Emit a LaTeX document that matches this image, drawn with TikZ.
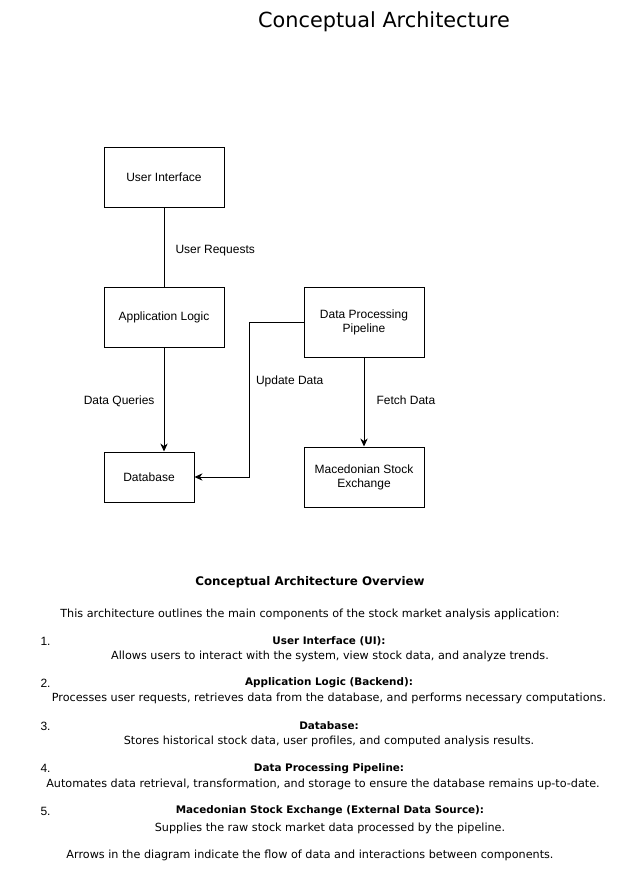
\documentclass[tikz,border=0pt]{standalone}
\usepackage{fontspec}
\setmainfont{Liberation Sans}
\newfontfamily\comic{DejaVu Sans}
\usetikzlibrary{arrows.meta}

\begin{document}
\begin{tikzpicture}[x=0.75pt, y=-0.75pt, line width=0.75pt, >={Stealth[length=6pt,width=5.5pt]},
  box/.style={draw, align=center, inner sep=0pt, minimum width=90pt, minimum height=45pt, font=\fontsize{9}{10.5}\selectfont},
  lbl/.style={inner sep=0pt, font=\fontsize{9}{11}\selectfont},
  txt/.style={inner sep=0pt, font=\comic\fontsize{8.4}{10}\selectfont},
  bold/.style={inner sep=0pt, font=\comic\bfseries\fontsize{7.8}{10}\selectfont},
  num/.style={inner sep=0pt, anchor=west, font=\fontsize{9}{11}\selectfont}]
  \useasboundingbox[fill=white] (0,0) rectangle (620,882);
  \node [inner sep=0pt, font=\comic\fontsize{15.6}{18}\selectfont] (title) at (384,22) {Conceptual Architecture};

  \node [box] (ui) at (164,177) {User Interface};
  \node [box] (app) at (164,317) {Application Logic};
  \node [box, minimum height=52.5pt] (pipe) at (364,322) {Data Processing\\Pipeline};
  \node [box, minimum width=67.5pt, minimum height=37.5pt] (db) at (149,477) {Database};
  \node [box] (mse) at (364,477) {Macedonian Stock\\Exchange};

  \draw (ui) -- node [lbl, anchor=west, xshift=8.25pt, yshift=-3pt] {User Requests} (app);
  \draw [->] (app) -- node [lbl, anchor=east, xshift=-6.75pt, yshift=-1pt] {Data Queries} (app |- db.north);
  \draw [->] (pipe.west) -- ++(-54,0) |- node [lbl, pos=0.19, anchor=west, xshift=4.5pt] {Update Data} (db.east);
  \draw [->] (pipe) -- node [lbl, anchor=west, xshift=9pt, yshift=1pt] {Fetch Data} (mse);

  \node [bold, font=\comic\bfseries\fontsize{8.9}{10}\selectfont] (ovtitle) at (310,582) {Conceptual Architecture Overview};
  \node [txt] (intro) at (310,614) {This architecture outlines the main components of the stock market analysis application:};

  \node [num] (n1) at (40,641) {1.};
  \node [bold] (h1) at (329,641) {User Interface (UI):};
  \node [txt] (d1) at (330,656) {Allows users to interact with the system, view stock data, and analyze trends.};

  \node [num] (n2) at (40,683) {2.};
  \node [bold] (h2) at (329,683) {Application Logic (Backend):};
  \node [txt] (d2) at (329,698) {Processes user requests, retrieves data from the database, and performs necessary computations.};

  \node [num] (n3) at (40,726) {3.};
  \node [bold] (h3) at (329,726) {Database:};
  \node [txt] (d3) at (329,741) {Stores historical stock data, user profiles, and computed analysis results.};

  \node [num] (n4) at (40,768) {4.};
  \node [bold] (h4) at (329,769) {Data Processing Pipeline:};
  \node [txt] (d4) at (323,784) {Automates data retrieval, transformation, and storage to ensure the database remains up-to-date.};

  \node [num] (n5) at (40,811) {5.};
  \node [bold] (h5) at (330,811) {Macedonian Stock Exchange (External Data Source):};
  \node [txt] (d5) at (330,828) {Supplies the raw stock market data processed by the pipeline.};

  \node [txt] (outro) at (310,855) {Arrows in the diagram indicate the flow of data and interactions between components.};
\end{tikzpicture}
\end{document}
